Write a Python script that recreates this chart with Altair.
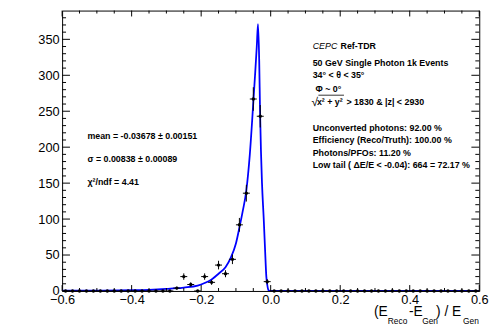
import altair as alt
import pandas as pd
import math

# ---------------- data ----------------
BIN_CENTERS = [-0.59, -0.57, -0.55, -0.53, -0.51, -0.49, -0.47, -0.45, -0.43, -0.41,
               -0.39, -0.37, -0.35, -0.33, -0.31, -0.29, -0.27, -0.25, -0.23, -0.21,
               -0.19, -0.17, -0.15, -0.13, -0.11, -0.09, -0.07, -0.05, -0.03, -0.01,
               0.01, 0.03, 0.05, 0.07, 0.09, 0.11, 0.13, 0.15, 0.17, 0.19,
               0.21, 0.23, 0.25, 0.27, 0.29, 0.31, 0.33, 0.35, 0.37, 0.39,
               0.41, 0.43, 0.45, 0.47, 0.49, 0.51, 0.53, 0.55, 0.57, 0.59]
BIN_COUNTS = [0, 0, 0, 0, 0, 0, 0, 0, 0, 0,
              0, 0, 0, 0, 0, 0, 4, 20, 9, 0,
              20, 12, 36, 24, 44, 92, 136, 267, 243, 13,
              0, 0, 0, 0, 0, 0, 0, 0, 0, 0,
              0, 0, 0, 0, 0, 0, 0, 0, 0, 0,
              0, 0, 0, 0, 0, 0, 0, 0, 0, 0]
BIN_HALF_WIDTH = 0.01

FIT_X = [-0.60, -0.50, -0.40, -0.35, -0.30, -0.27, -0.25, -0.21, -0.19, -0.17,
         -0.15, -0.13, -0.115, -0.10, -0.09, -0.08, -0.07, -0.06, -0.05, -0.045,
         -0.04, -0.0365, -0.033, -0.0306, -0.028, -0.025, -0.02, -0.0164, -0.0125,
         -0.01, -0.007, -0.004, 0.0, 0.6]
FIT_Y = [0.3, 0.5, 1.0, 1.6, 2.8, 3.8, 4.8, 7.5, 11, 16,
         24, 33, 46, 66, 88, 112, 140, 190, 262, 300,
         340, 371, 320, 250, 195, 150, 100, 60, 20,
         9, 2, 0.3, 0, 0]

X_MAJOR = [-0.6, -0.4, -0.2, 0.0, 0.2, 0.4, 0.6]
X_MINOR = [-0.55, -0.5, -0.45, -0.35, -0.3, -0.25, -0.15, -0.1, -0.05,
           0.05, 0.1, 0.15, 0.25, 0.3, 0.35, 0.45, 0.5, 0.55]
Y_MAJOR = [0, 50, 100, 150, 200, 250, 300, 350]
Y_MINOR = [10, 20, 30, 40, 60, 70, 80, 90, 110, 120, 130, 140, 160, 170, 180, 190,
           210, 220, 230, 240, 260, 270, 280, 290, 310, 320, 330, 340, 360, 370, 380]

FIT_TEXT = ["mean = -0.03678  \u00b1 0.00151",
            "\u03c3 = 0.00838  \u00b1 0.00089",
            "\u03c7\u00b2/ndf = 4.41"]
INFO_TEXT = ["50 GeV Single Photon 1k Events",
             "34\u00b0 < \u03b8 < 35\u00b0",
             "\u03a6 ~ 0\u00b0"]
STAT_TEXT = ["Unconverted photons: 92.00 %",
             "Efficiency (Reco/Truth): 100.00 %",
             "Photons/PFOs: 11.20 %",
             "Low tail ( \u0394E/E < -0.04): 664 = 72.17 %"]

# ---------------- layout ----------------
W, H = 424, 285
FONT = "Liberation Sans"
XS = alt.Scale(domain=[-0.6, 0.6], nice=False, zero=False)
YS = alt.Scale(domain=[0, 390], nice=False, zero=False)
XA = alt.Axis(values=X_MAJOR, title=None, grid=False, ticks=False, tickSize=0,
              domain=False, labelFontSize=13, labelFont=FONT, labelColor="black",
              labelPadding=3, labelFlush=False, labelOverlap=False)
YA = alt.Axis(values=Y_MAJOR, title=None, grid=False, ticks=False, tickSize=0,
              domain=False, labelFontSize=13, labelFont=FONT, labelColor="black",
              labelPadding=3, labelFlush=False, labelOverlap=False)

hist = pd.DataFrame({"c": BIN_CENTERS, "n": BIN_COUNTS})
hist["xl"] = hist["c"] - BIN_HALF_WIDTH
hist["xr"] = hist["c"] + BIN_HALF_WIDTH
hist["lo"] = [v - math.sqrt(v) for v in BIN_COUNTS]
hist["hi"] = [v + math.sqrt(v) for v in BIN_COUNTS]
nz = hist[hist["n"] > 0]

fit = pd.DataFrame({"x": FIT_X, "y": FIT_Y})

points = alt.Chart(hist).mark_circle(color="black", opacity=1, size=12).encode(
    x=alt.X("c:Q", scale=XS, axis=XA),
    y=alt.Y("n:Q", scale=YS, axis=YA),
)

hbars = alt.Chart(hist).mark_rule(color="black", strokeWidth=1).encode(
    x=alt.X("xl:Q", scale=XS, axis=XA), x2="xr:Q",
    y=alt.Y("n:Q", scale=YS, axis=YA))

vbars = alt.Chart(nz).mark_rule(color="black", strokeWidth=1).encode(
    x=alt.X("c:Q", scale=XS, axis=XA),
    y=alt.Y("lo:Q", scale=YS, axis=YA), y2="hi:Q")

fitline = alt.Chart(fit).mark_line(color="#0000ff", strokeWidth=1.8, interpolate="monotone",
                                   clip=True).encode(
    x=alt.X("x:Q", scale=XS, axis=XA),
    y=alt.Y("y:Q", scale=YS, axis=YA))


def xticks(vals, length):
    df = pd.DataFrame({"v": vals})
    bot = alt.Chart(df).mark_rule(color="black", strokeWidth=1).encode(
        x=alt.X("v:Q", scale=XS, axis=XA), y=alt.value(H), y2=alt.value(H - length))
    top = alt.Chart(df).mark_rule(color="black", strokeWidth=1).encode(
        x=alt.X("v:Q", scale=XS, axis=XA), y=alt.value(0), y2=alt.value(length))
    return [bot, top]


def yticks(vals, length):
    df = pd.DataFrame({"v": vals})
    left = alt.Chart(df).mark_rule(color="black", strokeWidth=1).encode(
        y=alt.Y("v:Q", scale=YS, axis=YA), x=alt.value(0), x2=alt.value(length))
    right = alt.Chart(df).mark_rule(color="black", strokeWidth=1).encode(
        y=alt.Y("v:Q", scale=YS, axis=YA), x=alt.value(W), x2=alt.value(W - length))
    return [left, right]


def txt(s, x, y, size=9, weight="bold", style="normal", align="left"):
    return alt.Chart(pd.DataFrame({"t": [s]})).mark_text(
        font=FONT, fontSize=size, fontWeight=weight, fontStyle=style, color="black",
        align=align, baseline="alphabetic").encode(
        x=alt.value(x), y=alt.value(y), text="t:N")


texts = []
# fit results (left)
for i, s in enumerate(FIT_TEXT):
    texts.append(txt(s, 25.7, 130.5 + 23.5 * i))
# header (right)
texts.append(txt("CEPC", 254.7, 38.6, weight="normal", style="italic"))
texts.append(txt("Ref-TDR", 283, 38.6))
texts.append(txt(INFO_TEXT[0], 254.7, 56.3))
texts.append(txt(INFO_TEXT[1], 254.7, 68.8))
texts.append(txt(INFO_TEXT[2], 257.5, 83.0))
texts.append(txt("\u221a", 253.5, 97.0, size=12, weight="normal"))
texts.append(txt("x\u00b2 + y\u00b2", 259.0, 96.3))
texts.append(txt("> 1830 & |z| < 2930", 289.0, 96.3))
overline = alt.Chart(pd.DataFrame({"a": [0]})).mark_rule(color="black", strokeWidth=0.8).encode(
    x=alt.value(260.5), x2=alt.value(286.5), y=alt.value(86.0))
for i, s in enumerate(STAT_TEXT):
    texts.append(txt(s, 254.7, 122.0 + 12.8 * i))

# x-axis title with subscripts
TY, SY = 310.2, 318.8
texts.append(txt("(E", 317.0, TY, size=14, weight="normal"))
texts.append(txt("Reco", 331.0, SY, size=8.5, weight="normal"))
texts.append(txt("-E", 352.5, TY, size=14, weight="normal"))
texts.append(txt("Gen", 366.0, SY, size=8.5, weight="normal"))
texts.append(txt(") / E", 380.0, TY, size=14, weight="normal"))
texts.append(txt("Gen", 407.5, SY, size=8.5, weight="normal"))

layers = ([fitline, hbars, vbars, points]
          + xticks(X_MAJOR, 6) + xticks(X_MINOR, 3)
          + yticks(Y_MAJOR, 8) + yticks(Y_MINOR, 4)
          + [overline] + texts)

chart = alt.layer(*layers).properties(
    width=W, height=H,
    autosize=alt.AutoSizeParams(type="none"),
    padding={"left": 55, "top": 0, "right": 16, "bottom": 34},
    background="white",
).configure_view(stroke="black", strokeWidth=1)

chart.save("out.html", embed_options={"renderer": "svg", "actions": False})
